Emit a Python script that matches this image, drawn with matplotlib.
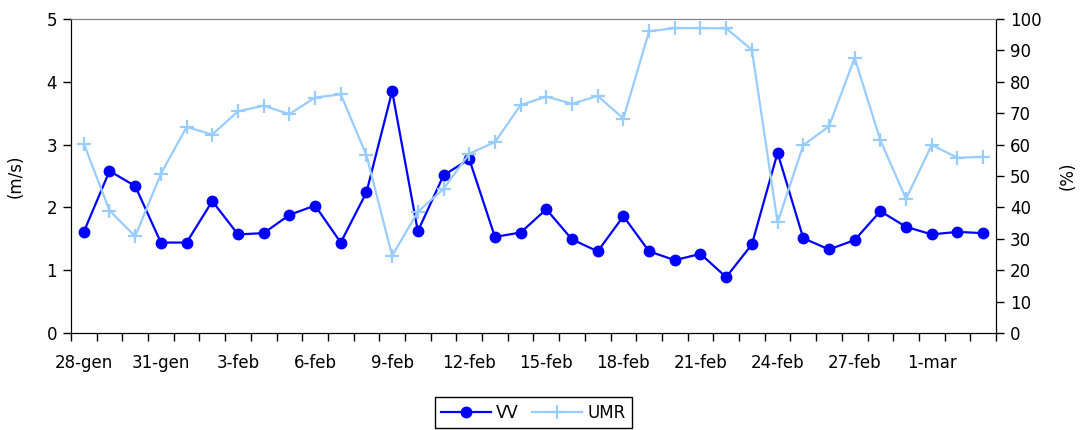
import numpy as np
import matplotlib.pyplot as plt

# giorni dal 28-gen al 3-mar (36 giorni)
n_giorni = 36
etichette = ['28-gen', '31-gen', '3-feb', '6-feb', '9-feb', '12-feb',
             '15-feb', '18-feb', '21-feb', '24-feb', '27-feb', '1-mar']

# velocità del vento (m/s)
vv = [1.61, 2.58, 2.34, 1.44, 1.44, 2.10, 1.57, 1.59, 1.88, 2.03, 1.44,
      2.24, 3.85, 1.62, 2.51, 2.77, 1.53, 1.60, 1.97, 1.49, 1.30, 1.86,
      1.30, 1.16, 1.26, 0.89, 1.41, 2.87, 1.51, 1.33, 1.48, 1.94, 1.69,
      1.57, 1.61, 1.59]

# umidità relativa (%)
umr = [60.3, 39.0, 30.8, 50.7, 65.6, 63.2, 70.6, 72.4, 69.7, 75.0, 76.0,
       56.6, 24.6, 38.6, 45.9, 57.1, 60.8, 72.6, 75.3, 73.0, 75.5, 68.3,
       96.1, 97.1, 97.1, 97.0, 90.2, 35.2, 59.8, 65.8, 87.6, 61.4, 42.7,
       59.9, 55.8, 56.1]

plt.rcParams['font.family'] = 'DejaVu Sans'
plt.rcParams['font.size'] = 12

fig = plt.figure(figsize=(10.8, 4.3), dpi=100)
ax = fig.add_axes([0.0657, 0.2256, 0.8565, 0.7302])
ax2 = ax.twinx()

x = np.arange(n_giorni) + 0.5

l1, = ax.plot(x, vv, color='#0000FF', lw=1.6, marker='o', ms=7.5,
              label='VV', zorder=3)
l2, = ax2.plot(x, umr, color='#99CCFF', lw=1.6, marker='+', ms=10,
               mew=1.6, label='UMR', zorder=3)

ax.set_xlim(0, n_giorni)
ax.set_ylim(0, 5)
ax2.set_ylim(0, 100)
ax.set_yticks(range(0, 6))
ax2.set_yticks(range(0, 101, 10))

# tacche ai bordi delle categorie, etichette al centro ogni 3 giorni
ax.set_xticks(np.arange(0, n_giorni + 1))
ax.set_xticklabels([])
ax.set_xticks(np.arange(0, n_giorni, 3) + 0.5, minor=True)
ax.set_xticklabels(etichette, minor=True)
ax.tick_params(axis='x', which='major', length=6, width=1, direction='out')
ax.tick_params(axis='x', which='minor', length=0, pad=15)
ax.tick_params(axis='y', length=6, width=1, pad=4)
ax2.tick_params(axis='y', length=6, width=1, pad=4)

ax.set_ylabel('(m/s)', labelpad=16)
ax2.set_ylabel('(%)', labelpad=12)

for a in (ax, ax2):
    a.spines['top'].set_color('#808080')
    a.spines['left'].set_color('black')
    a.spines['right'].set_color('black')
    a.spines['bottom'].set_color('black')

leg = fig.legend([l1, l2], ['VV', 'UMR'], loc='upper center',
                 bbox_to_anchor=(0.494, 0.088), ncol=2, frameon=True,
                 fancybox=False, edgecolor='black', framealpha=1,
                 borderpad=0.4, handlelength=3.0, columnspacing=0.8,
                 handletextpad=0.3, borderaxespad=0.3)
leg.get_frame().set_linewidth(1.0)

fig.savefig('out.png', dpi=100)
